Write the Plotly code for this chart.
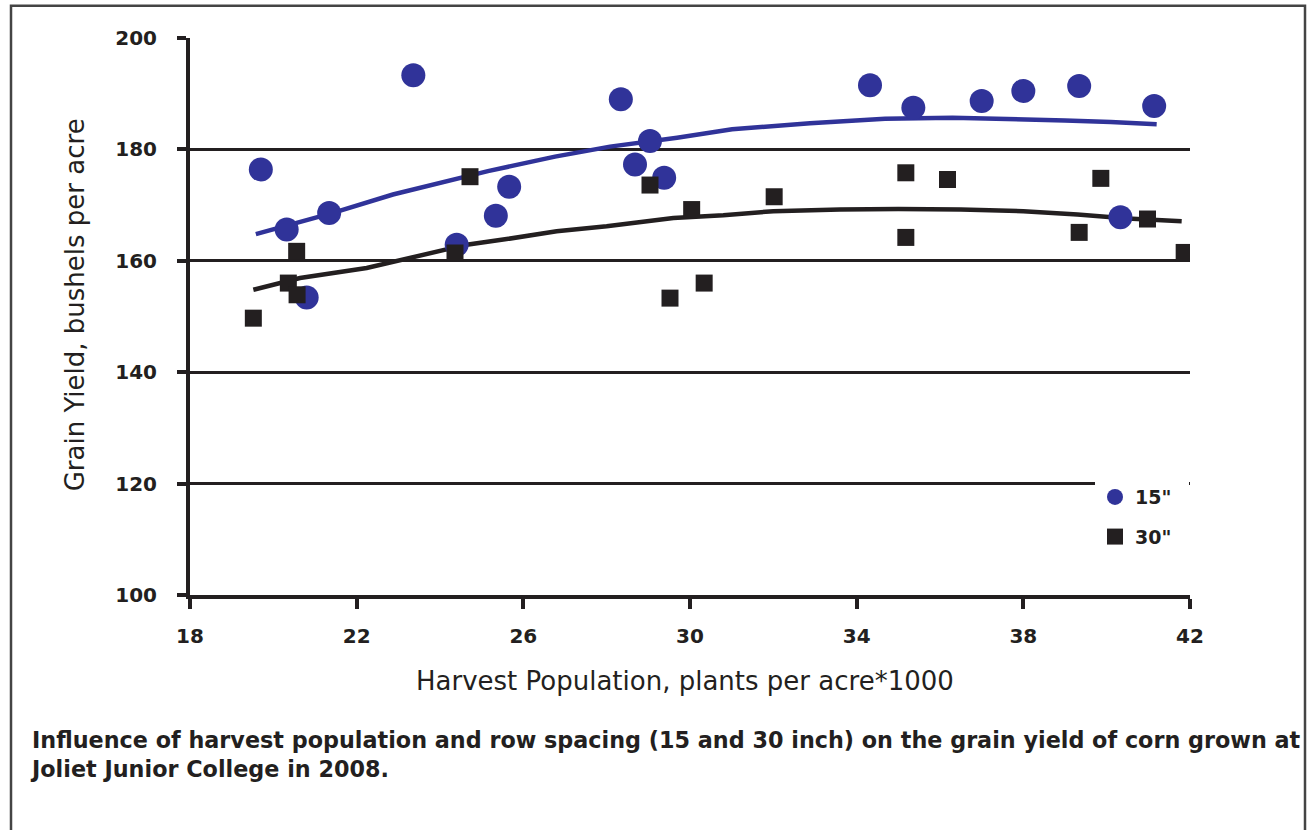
import plotly.graph_objects as go

# ---- data ----
pop_15 = [19.70, 20.32, 20.80, 21.34, 23.36, 24.40, 25.34, 25.66, 28.34, 28.68,
          29.04, 29.38, 34.32, 35.36, 37.00, 38.00, 39.34, 40.33, 41.14]
yield_15 = [176.4, 165.6, 153.4, 168.6, 193.3, 162.9, 168.1, 173.3, 189.0, 177.3,
            181.5, 174.9, 191.5, 187.5, 188.7, 190.5, 191.4, 167.8, 187.8]

pop_30 = [19.52, 20.36, 20.56, 20.57, 24.36, 24.72, 29.04, 29.52, 30.04, 30.34,
          32.02, 35.18, 35.18, 36.18, 39.34, 39.86, 40.98, 41.86]
yield_30 = [149.7, 156.0, 161.7, 153.9, 161.4, 175.1, 173.6, 153.3, 169.2, 156.0,
            171.5, 175.8, 164.2, 174.6, 165.1, 174.8, 167.5, 161.5]

trend15_x = [19.58, 21.43, 22.87, 24.07, 25.15, 26.76, 28.08, 29.69, 31.01, 32.88,
             34.68, 36.30, 37.80, 39.00, 40.10, 41.20]
trend15_y = [164.8, 168.6, 171.9, 174.1, 176.1, 178.7, 180.5, 182.1, 183.6, 184.7,
             185.5, 185.7, 185.5, 185.2, 184.9, 184.5]

trend30_x = [19.52, 20.64, 22.24, 23.44, 24.64, 25.60, 26.80, 28.00, 28.80, 29.60,
             30.80, 32.00, 33.60, 35.00, 36.50, 38.00, 39.30, 40.50, 41.80]
trend30_y = [154.8, 156.9, 158.7, 160.8, 162.9, 163.9, 165.3, 166.2, 167.0, 167.7,
             168.2, 168.9, 169.2, 169.3, 169.2, 168.9, 168.3, 167.6, 167.1]

x_ticks = [18, 22, 26, 30, 34, 38, 42]
y_ticks = [100, 120, 140, 160, 180, 200]

series_names = ['15"', '30"']
BLUE = "#303399"
BLACK = "#231f20"

fig = go.Figure()

fig.add_trace(go.Scatter(x=trend15_x, y=trend15_y, mode="lines",
                         line=dict(color=BLUE, width=4.5), showlegend=False,
                         hoverinfo="skip"))
fig.add_trace(go.Scatter(x=trend30_x, y=trend30_y, mode="lines",
                         line=dict(color=BLACK, width=4.5), showlegend=False,
                         hoverinfo="skip"))
fig.add_trace(go.Scatter(x=pop_15, y=yield_15, mode="markers",
                         name="<b>%s</b>&nbsp;&nbsp;" % series_names[0],
                         legendgroup="a",
                         marker=dict(symbol="circle", size=24, color=BLUE,
                                     line=dict(width=0))))
fig.add_trace(go.Scatter(x=pop_30, y=yield_30, mode="markers",
                         name="<b>%s</b>&nbsp;&nbsp;" % series_names[1],
                         legendgroup="b",
                         marker=dict(symbol="square", size=17, color=BLACK,
                                     line=dict(width=0))))

FONT = "DejaVu Sans"

fig.update_layout(
    width=1308, height=830,
    margin=dict(l=190, r=118, t=38, b=235),
    paper_bgcolor="white", plot_bgcolor="white",
    font=dict(family=FONT, color=BLACK),
    legend=dict(x=0.905, y=0.21, xanchor="left", yanchor="top",
                bgcolor="white", borderwidth=0,
                font=dict(family=FONT, size=19, color=BLACK),
                itemsizing="trace", tracegroupgap=12, itemwidth=30),
    xaxis=dict(range=[18, 42], tickvals=x_ticks,
               ticktext=["<b>%d</b>" % v for v in x_ticks],
               showgrid=False, zeroline=False,
               showline=True, linecolor=BLACK, linewidth=4,
               ticks="outside", ticklen=10, tickwidth=4, tickcolor=BLACK,
               tickfont=dict(family=FONT, size=20, color=BLACK),
               ticklabelstandoff=10),
    yaxis=dict(range=[100, 200], tickvals=y_ticks,
               ticktext=["<b>%d</b>" % v for v in y_ticks],
               showgrid=True, gridcolor=BLACK, gridwidth=2.5, zeroline=False,
               showline=True, linecolor=BLACK, linewidth=4,
               ticks="outside", ticklen=9, tickwidth=4, tickcolor=BLACK,
               tickfont=dict(family=FONT, size=20, color=BLACK),
               ticklabelstandoff=16),
    annotations=[
        dict(text="Grain Yield, bushels per acre", xref="paper", yref="paper",
             x=-0.115, y=0.52, xanchor="center", yanchor="middle",
             textangle=-90, showarrow=False,
             font=dict(family=FONT, size=26, color=BLACK)),
        dict(text="Harvest Population, plants per acre*1000", xref="paper", yref="paper",
             x=0.495, y=-0.154, xanchor="center", yanchor="middle", showarrow=False,
             font=dict(family=FONT, size=26, color=BLACK)),
        dict(text="<b>Influence of harvest population and row spacing (15 and 30 inch) on the grain yield of corn grown at<br>Joliet Junior College in 2008.</b>",
             xref="paper", yref="paper", x=-0.162, y=-0.234,
             xanchor="left", yanchor="top", align="left", showarrow=False,
             font=dict(family=FONT, size=22.3, color=BLACK)),
    ],
    shapes=[
        dict(type="rect", xref="paper", yref="paper",
             x0=-0.179, x1=1.115, y0=-0.45, y1=1.058,
             line=dict(color="#444444", width=2.5), fillcolor="rgba(0,0,0,0)",
             layer="below"),
    ],
)

fig.write_html("out.html")
